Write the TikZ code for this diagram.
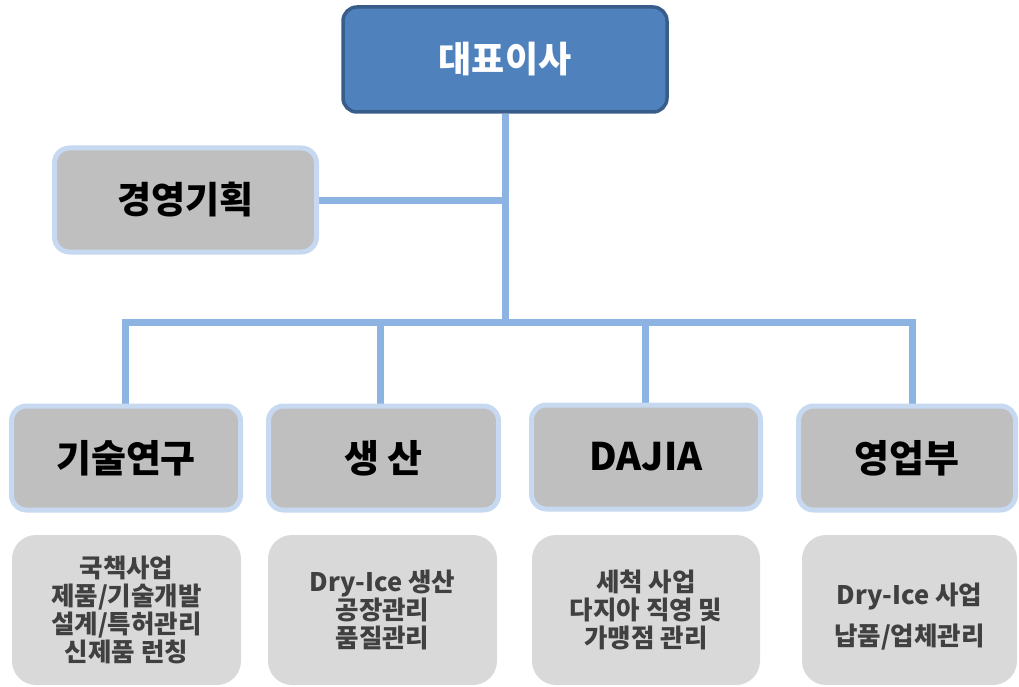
\documentclass[tikz,border=0pt]{standalone}
\usepackage{fontspec}
\newfontfamily\kr{Noto Sans CJK KR}
\usetikzlibrary{backgrounds}
\definecolor{ceofill}{RGB}{79,129,189}
\definecolor{ceoline}{RGB}{56,93,138}
\definecolor{conn}{RGB}{141,179,226}
\definecolor{headfill}{RGB}{191,191,191}
\definecolor{headline}{RGB}{198,217,241}
\definecolor{detfill}{RGB}{217,217,217}
\definecolor{dettext}{RGB}{64,64,64}
\tikzset{
  ceobox/.style={draw=ceoline, line width=3.5pt, fill=ceofill, rounded corners=14pt,
    minimum width=324pt, minimum height=105pt, inner sep=0pt, text=white,
    font=\kr\bfseries\fontsize{36}{42}\selectfont},
  headbox/.style={draw=headline, line width=5pt, fill=headfill, rounded corners=15pt,
    minimum height=104pt, inner sep=0pt, text=black,
    font=\kr\bfseries\fontsize{38}{44}\selectfont},
  detbox/.style={fill=detfill, rounded corners=24pt, minimum height=150pt, inner sep=0pt,
    text=dettext, align=center, font=\kr\bfseries\fontsize{25.5}{28}\selectfont},
  dettxt/.style={inner sep=0pt, text=dettext, align=center,
    font=\kr\bfseries\fontsize{25.5}{28}\selectfont},
  connline/.style={draw=conn, line width=7pt}
}
\begin{document}
\begin{tikzpicture}[x=1pt,y=-1pt]
\useasboundingbox (0,0) rectangle (1019,687);
\node[ceobox] (ceo) at (505,59.5) {대표이사};
\node[headbox, minimum width=262pt, font=\kr\bfseries\fontsize{37}{43}\selectfont] (plan) at (185.5,200) {경영기획};
\node[headbox, minimum width=229pt] (h1) at (126,458) {기술연구};
\node[headbox, minimum width=230pt] (h2) at (383.5,458) {생 산};
\node[headbox, minimum width=229pt] (h3) at (646,457) {DAJIA};
\node[headbox, minimum width=217pt] (h4) at (907,458) {영업부};
\node[detbox, minimum width=229pt] (t1) at (126.5,610) {국책사업\\제품/기술개발\\설계/특허관리\\신제품 런칭};
\node[detbox, minimum width=229pt] (t2) at (382.5,610) {Dry-Ice 생산\\공장관리\\품질관리};
\node[detbox, minimum width=228pt] (t3) at (646,610) {세척 사업\\다지아 직영 및\\가맹점 관리};
\node[detbox, minimum width=215pt] (t4) at (909.5,610) {};
\node[dettxt] (t4txt) at ([yshift=-7pt]t4.center) {Dry-Ice 사업\\[13pt]납품/업체관리};
\coordinate (hub) at (505,322);
\coordinate (d1) at (125,322);
\coordinate (d2) at (380,322);
\coordinate (d3) at (645,322);
\coordinate (d4) at (912,322);
\begin{pgfonlayer}{background}
\draw[connline] (ceo.south) -- (hub);
\draw[connline] (plan.east) -- (plan.east -| hub);
\draw[connline] (d1 |- h1.north) -- (d1) -- (d4) -- (d4 |- h4.north);
\draw[connline] (d2) -- (d2 |- h2.north);
\draw[connline] (d3) -- (d3 |- h3.north);
\end{pgfonlayer}
\end{tikzpicture}
\end{document}
